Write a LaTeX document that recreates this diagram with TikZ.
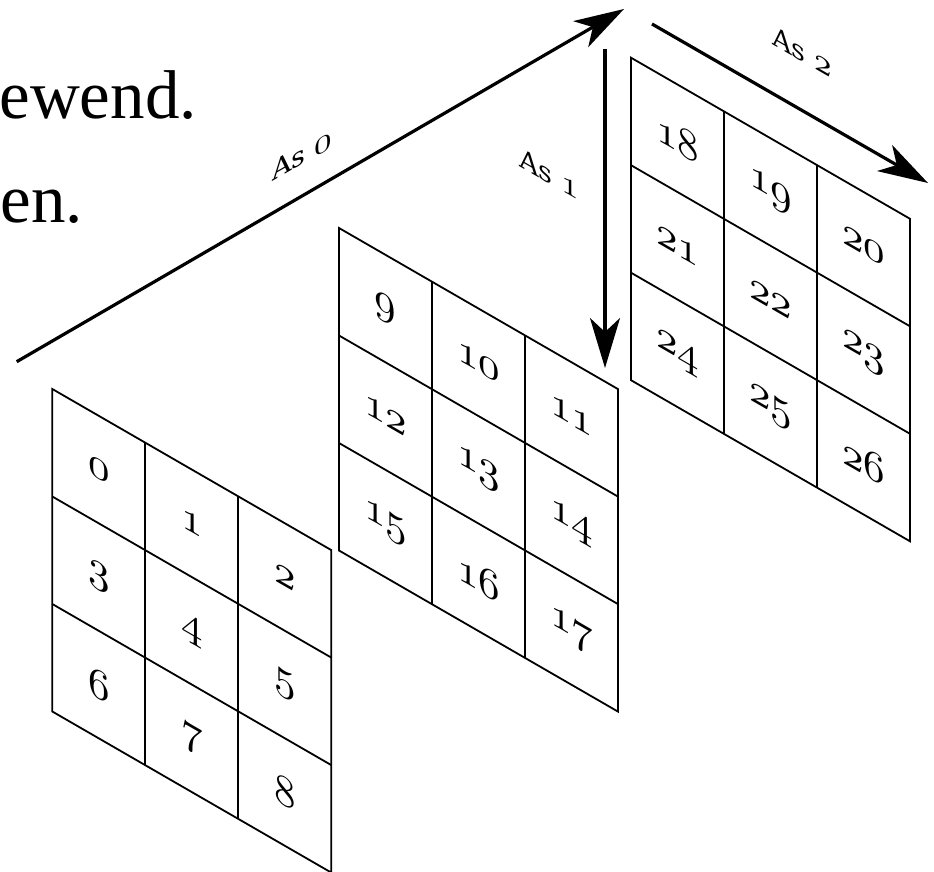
\documentclass[tikz,border=0pt]{standalone}
\usepackage{fontspec}
\usepackage{graphicx}
\usetikzlibrary{arrows.meta}
\newfontfamily\pagefont{Liberation Serif}
\newfontfamily\lblfont{DejaVu Serif}
\newcommand\myosf[2][4.3]{\scalebox{#1}{\fontsize{10}{12}\usefont{OML}{lmm}{b}{it}#2}}
\begin{document}
\begin{tikzpicture}[x=1pt,y=-1pt,
  gridline/.style={line width=1.8pt, line join=miter},
  arr/.style={line width=3.2pt, -{Stealth[length=50pt,width=30pt,inset=14pt]}},
  num/.style={inner sep=0pt, yslant=-0.577},
  axlabel/.style={inner sep=0pt, font=\lblfont\fontsize{27}{32}\selectfont},
  pagetext/.style={anchor=base east, inner sep=0pt, font=\pagefont\fontsize{69}{80}\selectfont}]
\useasboundingbox (0,0) rectangle (934,872);
\clip (0,0) rectangle (934,872);

% cut-off page text
\node[pagetext] (t1) at (197,119) {ewend.};
\node[pagetext] (t2) at (83,222) {en.};

% three sheared grids
\foreach \ox/\oy/\base [count=\g] in {52.3/389/0, 339/228/9, 631/57.7/18}{
  \begin{scope}[shift={(\ox,\oy)}, x={(93pt,-53.7pt)}, y={(0pt,-107.5pt)}]
    \draw[gridline] (0,0) -- (3,0) -- (3,3) -- (0,3) -- cycle;
    \foreach \k in {1,2}{
      \draw[gridline] (\k,0) -- (\k,3);
      \draw[gridline] (0,\k) -- (3,\k);
    }
    \foreach \j in {0,1,2}{
      \foreach \i in {0,1,2}{
        \pgfmathtruncatemacro\n{\base+3*\j+\i}
        \node[num] (c\n) at (\i+0.5,\j+0.5) {\myosf{\n}};
      }
    }
  \end{scope}
}

% axes
\coordinate (a0s) at (16.7,361.7);
\coordinate (a0e) at (624,9);
\coordinate (a1s) at (605,49);
\coordinate (a1e) at (605,368);
\coordinate (a2s) at (652,24);
\coordinate (a2e) at (928,183);
\draw[arr] (a0s) -- (a0e);
\draw[arr] (a1s) -- (a1e);
\draw[arr] (a2s) -- (a2e);

\node[axlabel, yslant=0.577] (l0) at (302,155) {As \myosf[3.5]{0}};
\node[axlabel, yslant=-0.577] (l1) at (549,174) {As \myosf[3.5]{1}};
\node[axlabel, yslant=-0.577] (l2) at (802,52) {As \myosf[3.5]{2}};
\end{tikzpicture}
\end{document}
